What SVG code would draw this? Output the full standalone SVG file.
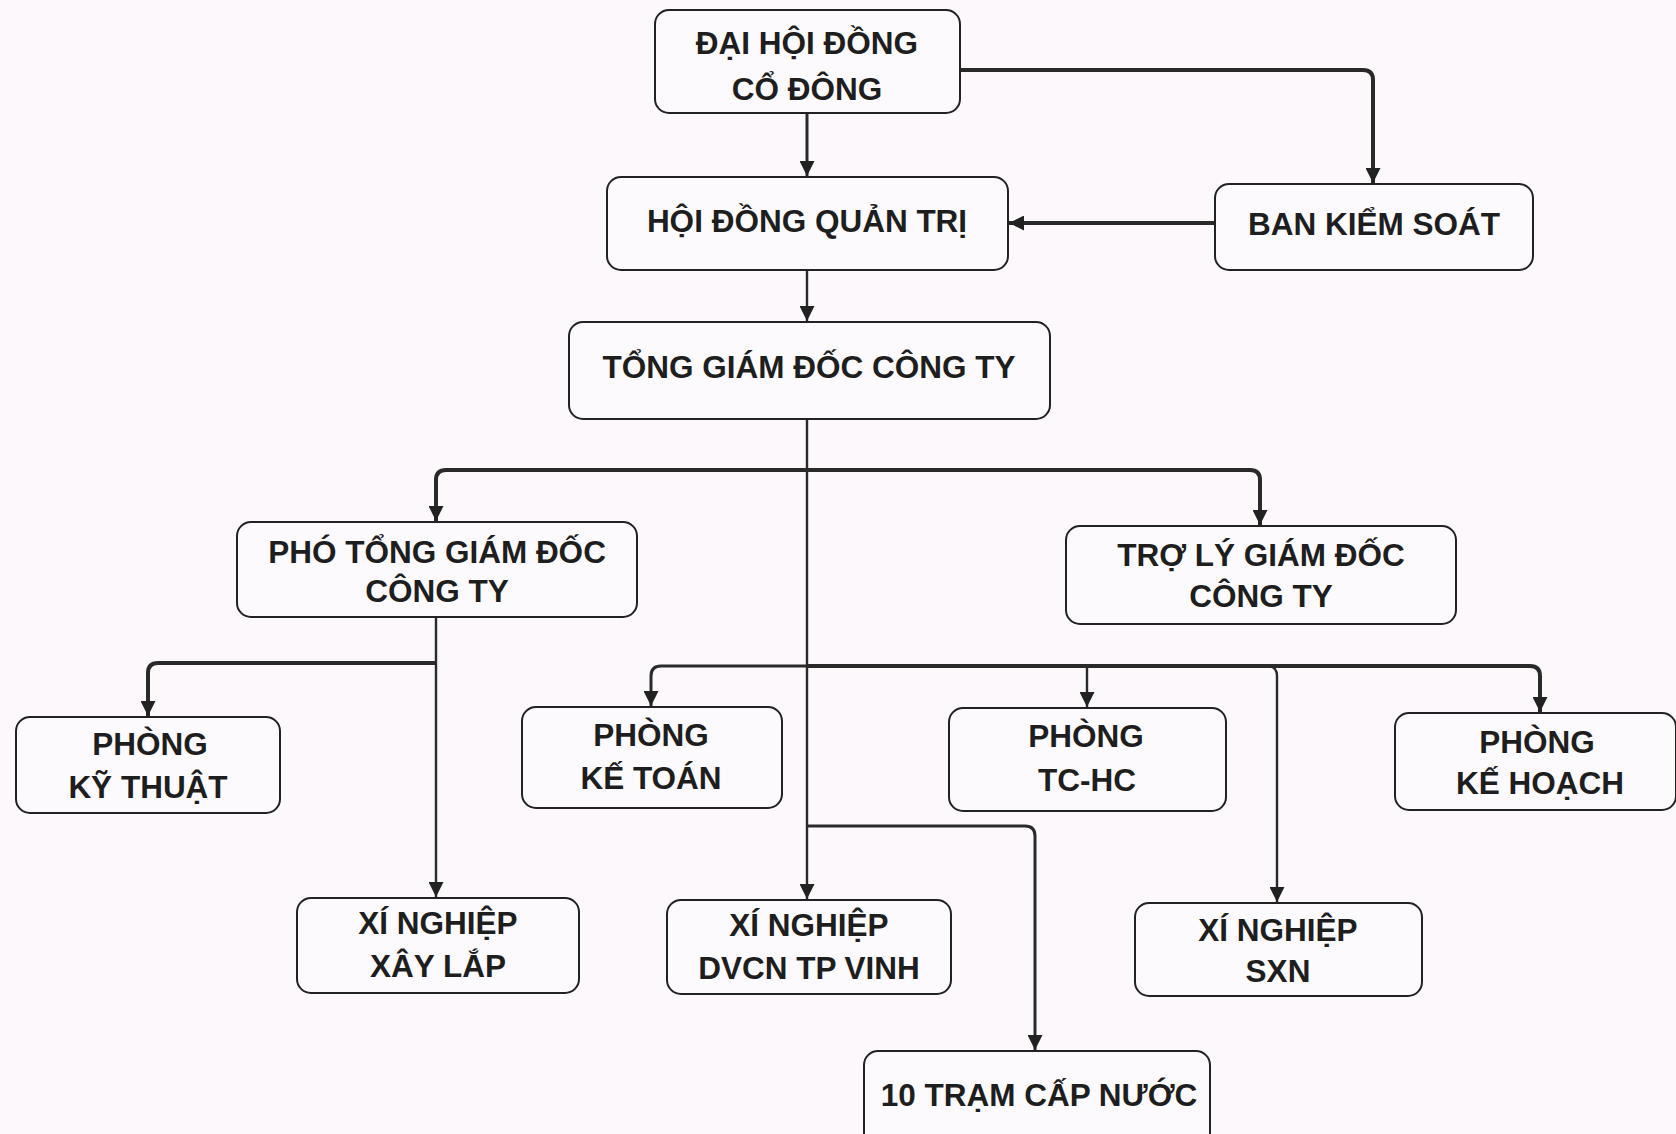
<svg xmlns="http://www.w3.org/2000/svg" width="1676" height="1134" viewBox="0 0 1676 1134">
<style>
.box{fill:#fdfafd;stroke:#222;stroke-width:2}
.t{font-family:"Liberation Sans",Arial,sans-serif;font-weight:bold;font-size:31.5px;fill:#1e1e1e;text-anchor:middle}
.c{fill:none;stroke:#2a2a2a;stroke-linejoin:round;stroke-linecap:butt}
.thick{stroke-width:4}
.mid{stroke-width:3}
.thin{stroke-width:2.4}
</style>
<defs>
<marker id="ah" viewBox="0 0 10 10" refX="10" refY="5" markerUnits="userSpaceOnUse" markerWidth="15" markerHeight="15" orient="auto">
<path d="M0,0 L10,5 L0,10 z" fill="#222"/>
</marker>
</defs>
<rect width="1676" height="1134" fill="#fcf8fc"/>
<g id="connectors">
<path class="c mid" d="M807 113 V176" marker-end="url(#ah)"/>
<path class="c thick" d="M960 70 H1363 Q1373 70 1373 80 V183" marker-end="url(#ah)"/>
<path class="c thick" d="M1215 223 H1009" marker-end="url(#ah)"/>
<path class="c thin" d="M807 270 V321" marker-end="url(#ah)"/>
<path class="c thin" d="M807 419 V899" marker-end="url(#ah)"/>
<path class="c thick" d="M807 470 H446 Q436 470 436 480 V521" marker-end="url(#ah)"/>
<path class="c thick" d="M807 470 H1250 Q1260 470 1260 480 V525" marker-end="url(#ah)"/>
<path class="c thin" d="M436 617 V897" marker-end="url(#ah)"/>
<path class="c thick" d="M436 663 H158 Q148 663 148 673 V716" marker-end="url(#ah)"/>
<path class="c mid" d="M807 666 H661 Q651 666 651 676 V706" marker-end="url(#ah)"/>
<path class="c thick" d="M807 666 H1530 Q1540 666 1540 676 V712" marker-end="url(#ah)"/>
<path class="c thin" d="M1087 666 V707" marker-end="url(#ah)"/>
<path class="c thin" d="M1267 666 Q1277 666 1277 676 V902" marker-end="url(#ah)"/>
<path class="c mid" d="M807 826 H1025 Q1035 826 1035 836 V1050" marker-end="url(#ah)"/>
</g>
<g id="n1"><rect class="box" x="655" y="10" width="305" height="103" rx="14"/><text class="t" x="807" y="54">ĐẠI HỘI ĐỒNG</text><text class="t" x="807" y="100">CỔ ĐÔNG</text></g>
<g id="n2"><rect class="box" x="607" y="177" width="401" height="93" rx="14"/><text class="t" x="807" y="232">HỘI ĐỒNG QUẢN TRỊ</text></g>
<g id="n3"><rect class="box" x="1215" y="184" width="318" height="86" rx="14"/><text class="t" x="1374" y="235">BAN KIỂM SOÁT</text></g>
<g id="n4"><rect class="box" x="569" y="322" width="481" height="97" rx="14"/><text class="t" x="809" y="378">TỔNG GIÁM ĐỐC CÔNG TY</text></g>
<g id="n5"><rect class="box" x="237" y="522" width="400" height="95" rx="14"/><text class="t" x="437" y="563">PHÓ TỔNG GIÁM ĐỐC</text><text class="t" x="437" y="602">CÔNG TY</text></g>
<g id="n6"><rect class="box" x="1066" y="526" width="390" height="98" rx="14"/><text class="t" x="1261" y="566">TRỢ LÝ GIÁM ĐỐC</text><text class="t" x="1261" y="607">CÔNG TY</text></g>
<g id="n7"><rect class="box" x="16" y="717" width="264" height="96" rx="14"/><text class="t" x="150" y="755">PHÒNG</text><text class="t" x="148" y="798">KỸ THUẬT</text></g>
<g id="n8"><rect class="box" x="522" y="707" width="260" height="101" rx="14"/><text class="t" x="651" y="746">PHÒNG</text><text class="t" x="651" y="789">KẾ TOÁN</text></g>
<g id="n9"><rect class="box" x="949" y="708" width="277" height="103" rx="14"/><text class="t" x="1086" y="747">PHÒNG</text><text class="t" x="1087" y="791">TC-HC</text></g>
<g id="n10"><rect class="box" x="1395" y="713" width="281" height="97" rx="14"/><text class="t" x="1537" y="753">PHÒNG</text><text class="t" x="1540" y="794">KẾ HOẠCH</text></g>
<g id="n11"><rect class="box" x="297" y="898" width="282" height="95" rx="14"/><text class="t" x="438" y="934">XÍ NGHIỆP</text><text class="t" x="438" y="977">XÂY LẮP</text></g>
<g id="n12"><rect class="box" x="667" y="900" width="284" height="94" rx="14"/><text class="t" x="809" y="936">XÍ NGHIỆP</text><text class="t" x="809" y="979">DVCN TP VINH</text></g>
<g id="n13"><rect class="box" x="1135" y="903" width="287" height="93" rx="14"/><text class="t" x="1278" y="941">XÍ NGHIỆP</text><text class="t" x="1278" y="982">SXN</text></g>
<g id="n14"><rect class="box" x="864" y="1051" width="346" height="100" rx="14"/><text class="t" x="1039" y="1106">10 TRẠM CẤP NƯỚC</text></g>
</svg>
